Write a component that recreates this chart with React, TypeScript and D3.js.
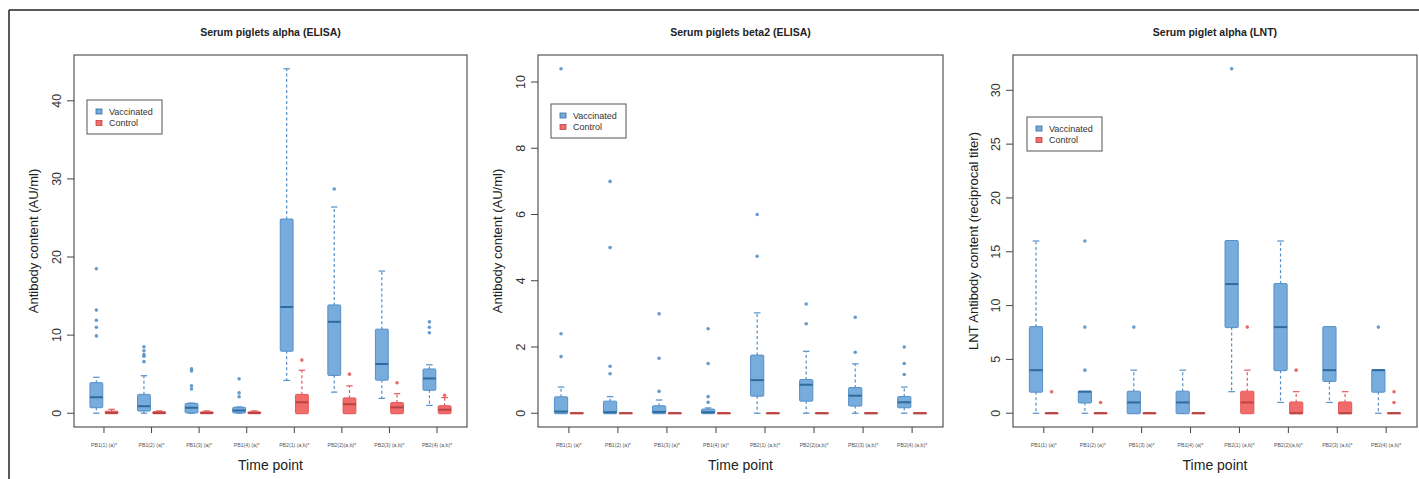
import React from "react";
import * as d3 from "d3";

// time points on the x axis
const categories = [
  "PB1(1) (a)*",
  "PB1(2) (a)*",
  "PB1(3) (a)*",
  "PB1(4) (a)*",
  "PB2(1) (a,b)*",
  "PB2(2)(a,b)*",
  "PB2(3) (a,b)*",
  "PB2(4) (a,b)*",
];

// box stats per time point: [whisker low, q1, median, q3, whisker high]
const alphaVacc = [
  [0, 0.77, 2.05, 3.85, 4.6],
  [0, 0.34, 0.9, 2.35, 4.8],
  [0, 0.1, 0.7, 1.2, 1.3],
  [0, 0.1, 0.35, 0.7, 0.8],
  [4.2, 8.0, 13.6, 24.8, 44.1],
  [2.7, 4.9, 11.7, 13.8, 26.4],
  [1.9, 4.3, 6.3, 10.7, 18.2],
  [1.0, 3.0, 4.45, 5.6, 6.2],
];
const alphaVaccOut = [
  [18.5, 13.2, 11.9, 11.0, 9.9],
  [8.5, 8.0, 7.5, 7.3, 6.6],
  [5.7, 5.4, 3.5, 3.1],
  [4.4, 2.6, 2.1],
  [],
  [28.7],
  [],
  [11.7, 11.0, 10.3],
];
const alphaCtrl = [
  [0, 0, 0.05, 0.2, 0.5],
  [0, 0, 0.03, 0.15, 0.3],
  [0, 0, 0.03, 0.12, 0.3],
  [0, 0, 0.03, 0.12, 0.3],
  [0, 0, 1.4, 2.35, 5.5],
  [0, 0, 1.15, 1.9, 3.5],
  [0, 0, 0.75, 1.3, 2.5],
  [0, 0, 0.45, 0.9, 2.0],
];
const alphaCtrlOut = [[], [], [], [], [6.8], [5.0], [3.9], [2.3]];

const beta2Vacc = [
  [0, 0, 0.05, 0.48, 0.79],
  [0, 0, 0.03, 0.35, 0.5],
  [0, 0, 0.04, 0.21, 0.4],
  [0, 0, 0.03, 0.11, 0.16],
  [0, 0.53, 1.0, 1.74, 3.03],
  [0, 0.38, 0.86, 1.0, 1.87],
  [0, 0.23, 0.53, 0.76, 1.49],
  [0, 0.18, 0.33, 0.49, 0.79],
];
const beta2VaccOut = [
  [10.4, 2.4, 1.71],
  [7.0, 5.0, 1.42, 1.19],
  [3.0, 1.66, 0.66],
  [2.55, 1.5, 0.5, 0.33],
  [6.0, 4.74],
  [3.3, 2.7],
  [2.9, 1.84],
  [2.0, 1.5, 1.17],
];
const beta2Ctrl = [
  [0, 0, 0, 0, 0],
  [0, 0, 0, 0, 0],
  [0, 0, 0, 0, 0],
  [0, 0, 0, 0, 0],
  [0, 0, 0, 0, 0],
  [0, 0, 0, 0, 0],
  [0, 0, 0, 0, 0],
  [0, 0, 0, 0, 0],
];
const beta2CtrlOut = [[], [], [], [], [], [], [], []];

const lntVacc = [
  [0, 2, 4, 8, 16],
  [0, 1, 2, 2, 2],
  [0, 0, 1, 2, 4],
  [0, 0, 1, 2, 4],
  [2, 8, 12, 16, 16],
  [1, 4, 8, 12, 16],
  [1, 3, 4, 8, 8],
  [0, 2, 4, 4, 4],
];
const lntVaccOut = [[], [16, 8, 4], [8], [], [32], [], [], [8]];
const lntCtrl = [
  [0, 0, 0, 0, 0],
  [0, 0, 0, 0, 0],
  [0, 0, 0, 0, 0],
  [0, 0, 0, 0, 0],
  [0, 0, 1, 2, 4],
  [0, 0, 0, 1, 2],
  [0, 0, 0, 1, 2],
  [0, 0, 0, 0, 0],
];
const lntCtrlOut = [[2], [1], [], [], [8], [4], [], [2, 1]];

const alphaTicks = [0, 10, 20, 30, 40];
const beta2Ticks = [0, 2, 4, 6, 8, 10];
const lntTicks = [0, 5, 10, 15, 20, 25, 30];

const legendLabels = ["Vaccinated", "Control"];

const BLUE = { fill: "#77acdc", stroke: "#5590c8", med: "#2f6b9f" };
const RED = { fill: "#f26b6b", stroke: "#e45a5a", med: "#b94444" };

const panels = [
  {
    title: "Serum piglets alpha (ELISA)",
    ylab: "Antibody content (AU/ml)",
    left: 74, right: 467, ylabX: 33,
    ymax: 44.1, ticks: alphaTicks,
    vacc: alphaVacc, vaccOut: alphaVaccOut, ctrl: alphaCtrl, ctrlOut: alphaCtrlOut,
    legend: [87, 100],
  },
  {
    title: "Serum piglets beta2 (ELISA)",
    ylab: "Antibody content (AU/ml)",
    left: 538, right: 943, ylabX: 497,
    ymax: 10.4, ticks: beta2Ticks,
    vacc: beta2Vacc, vaccOut: beta2VaccOut, ctrl: beta2Ctrl, ctrlOut: beta2CtrlOut,
    legend: [551, 104],
  },
  {
    title: "Serum piglet alpha (LNT)",
    ylab: "LNT Antibody content (reciprocal titer)",
    left: 1013, right: 1417, ylabX: 973,
    ymax: 32, ticks: lntTicks,
    vacc: lntVacc, vaccOut: lntVaccOut, ctrl: lntCtrl, ctrlOut: lntCtrlOut,
    legend: [1027, 117],
  },
];

const TOP = 55;
const BOTTOM = 427;
const FONT = "Liberation Sans, Arial, sans-serif";

function Box({ cx, s, y, col, w }) {
  const [lo, q1, med, q3, hi] = s;
  const hw = w / 2;
  const cap = w / 4;
  return (
    <g>
      <line x1={cx} x2={cx} y1={y(q3)} y2={y(hi)} stroke={col.stroke} strokeDasharray="3,2.5" strokeWidth={1.2} />
      <line x1={cx} x2={cx} y1={y(q1)} y2={y(lo)} stroke={col.stroke} strokeDasharray="3,2.5" strokeWidth={1.2} />
      <line x1={cx - cap} x2={cx + cap} y1={y(hi)} y2={y(hi)} stroke={col.stroke} strokeWidth={1.2} />
      <line x1={cx - cap} x2={cx + cap} y1={y(lo)} y2={y(lo)} stroke={col.stroke} strokeWidth={1.2} />
      <rect x={cx - hw} y={y(q3) - 0.5} width={w} height={Math.max(y(q1) - y(q3), 0) + 1} fill={col.fill} stroke={col.stroke} strokeWidth={1} rx={1} />
      <line x1={cx - hw} x2={cx + hw} y1={y(med)} y2={y(med)} stroke={col.med} strokeWidth={2} />
    </g>
  );
}

function Panel({ p }) {
  const x = d3.scalePoint().domain(categories).range([p.left, p.right]).padding(0.63);
  const ext = p.ymax * 0.04;
  const y = d3.scaleLinear().domain([-ext, p.ymax + ext]).range([BOTTOM, TOP]);
  const step = x.step();
  const off = step * 0.16;
  const bw = step * 0.27;
  const cxm = (p.left + p.right) / 2;
  const [lx, ly] = p.legend;
  return (
    <g fontFamily={FONT}>
      <text x={cxm} y={35.5} textAnchor="middle" fontSize={10.5} fontWeight="bold" fill="#222">{p.title}</text>
      {categories.map((c, i) => {
        const cx = x(c);
        return (
          <g key={c}>
            <Box cx={cx - off} s={p.vacc[i]} y={y} col={BLUE} w={bw} />
            <Box cx={cx + off} s={p.ctrl[i]} y={y} col={RED} w={bw} />
            {p.vaccOut[i].map((v, k) => (
              <circle key={"v" + k} cx={cx - off} cy={y(v)} r={1.8} fill={BLUE.stroke} opacity={0.9} />
            ))}
            {p.ctrlOut[i].map((v, k) => (
              <circle key={"c" + k} cx={cx + off} cy={y(v)} r={1.8} fill={RED.stroke} opacity={0.9} />
            ))}
            <line x1={cx} x2={cx} y1={BOTTOM} y2={BOTTOM + 6} stroke="#444" />
            <text x={cx} y={447} textAnchor="middle" fontSize={5.2} fill="#555">{c}</text>
          </g>
        );
      })}
      <rect x={p.left} y={TOP} width={p.right - p.left} height={BOTTOM - TOP} fill="none" stroke="#555" strokeWidth={1.2} />
      {p.ticks.map((t) => (
        <g key={t}>
          <line x1={p.left - 7} x2={p.left} y1={y(t)} y2={y(t)} stroke="#444" />
          <text transform={`translate(${p.left - 13},${y(t)}) rotate(-90)`} textAnchor="middle" fontSize={12.5} fill="#333">{t}</text>
        </g>
      ))}
      <text transform={`translate(${p.ylabX},241) rotate(-90)`} textAnchor="middle" fontSize={13} fill="#222" dy="0.35em">{p.ylab}</text>
      <text x={cxm} y={470} textAnchor="middle" fontSize={14} fill="#222">Time point</text>
      <rect x={lx} y={ly} width={75} height={34} fill="#fff" stroke="#555" strokeWidth={1} />
      {legendLabels.map((l, i) => (
        <g key={l}>
          <rect x={lx + 9} y={ly + 9 + i * 11.5} width={6} height={5} fill={i === 0 ? BLUE.fill : RED.fill} stroke={i === 0 ? BLUE.med : RED.med} strokeWidth={0.8} />
          <text x={lx + 22} y={ly + 14.5 + i * 11.5} fontSize={9} fill="#333">{l}</text>
        </g>
      ))}
    </g>
  );
}

export default function App() {
  return (
    <svg width={1419} height={479} style={{ position: "absolute", left: 0, top: 0, background: "#fff" }}>
      <rect x={0} y={0} width={1419} height={479} fill="#fff" />
      <line x1={9} x2={1419} y1={10} y2={10} stroke="#222" strokeWidth={1.5} />
      <line x1={9} x2={9} y1={10} y2={479} stroke="#222" strokeWidth={1.5} />
      {panels.map((p) => (
        <Panel key={p.title} p={p} />
      ))}
    </svg>
  );
}
